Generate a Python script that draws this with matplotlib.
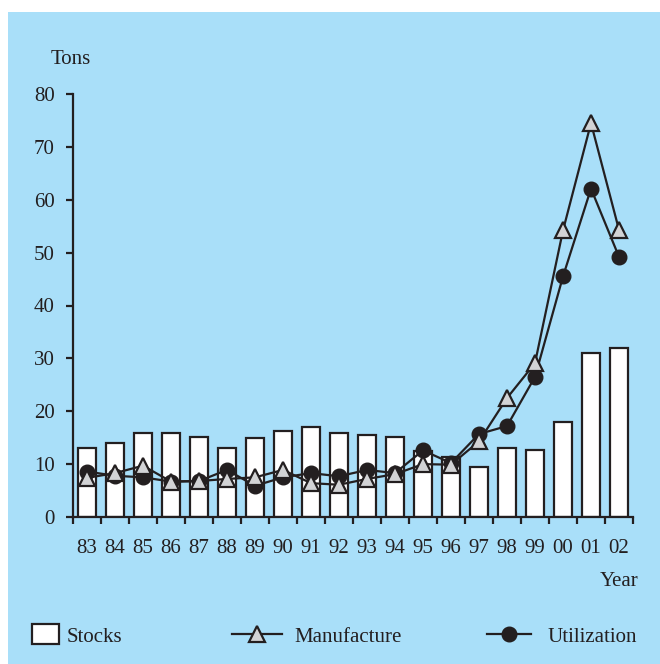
import matplotlib.pyplot as plt
import numpy as np
from matplotlib.patches import Rectangle
from matplotlib.lines import Line2D

plt.rcParams['font.family'] = ['Liberation Serif', 'DejaVu Serif']

# data (tons per year)
years = ['83', '84', '85', '86', '87', '88', '89', '90', '91', '92',
         '93', '94', '95', '96', '97', '98', '99', '00', '01', '02']
stocks = [13.0, 14.0, 15.8, 15.8, 15.2, 13.0, 14.9, 16.2, 17.1, 15.8,
          15.5, 15.2, 12.5, 11.4, 9.4, 13.0, 12.7, 17.9, 31.0, 32.0]
manufacture = [7.4, 8.3, 9.7, 6.7, 6.8, 7.2, 7.5, 8.9, 6.4, 6.1,
               7.2, 8.1, 10.0, 9.9, 14.3, 22.5, 29.1, 54.2, 74.5, 54.3]
utilization = [8.6, 7.8, 7.5, 6.7, 6.8, 8.9, 5.9, 7.5, 8.3, 7.7,
               8.9, 8.3, 12.6, 10.2, 15.7, 17.2, 26.5, 45.5, 62.1, 49.2]
yticks = [0, 10, 20, 30, 40, 50, 60, 70, 80]

bg = '#a9dff9'
ink = '#231f20'
tri_face = '#d2d3d5'
fs = 15

fig = plt.figure(figsize=(6.6, 6.64), dpi=100)
fig.patch.set_facecolor('white')
# blue panel (white strip on left and top)
fig.patches.append(Rectangle((8 / 660, 0), 1 - 8 / 660, 1 - 12 / 664,
                             transform=fig.transFigure, facecolor=bg,
                             edgecolor='none', zorder=-5))

ax = fig.add_axes([73 / 660, 147 / 664, 560 / 660, 423 / 664])
ax.set_facecolor('none')

x = np.arange(len(years))
ax.bar(x, stocks, width=0.65, color='white', edgecolor=ink, linewidth=1.6, zorder=2)
ax.plot(x, utilization, color=ink, lw=1.6, marker='o', ms=10.5,
        mfc=ink, mec=ink, zorder=3)
ax.plot(x, manufacture, color=ink, lw=1.6, marker='^', ms=11.5,
        mfc=tri_face, mec=ink, mew=1.6, zorder=4)

ax.set_xlim(-0.5, len(years) - 0.5)
ax.set_ylim(0, 80)
ax.set_yticks(yticks)
ax.set_xticks(np.arange(len(years) + 1) - 0.5)
ax.set_xticklabels([])
ax.set_xticks(x, minor=True)
ax.set_xticklabels(years, minor=True)

for s in ['top', 'right']:
    ax.spines[s].set_visible(False)
for s in ['left', 'bottom']:
    ax.spines[s].set_color(ink)
    ax.spines[s].set_linewidth(1.6)

ax.tick_params(axis='both', which='major', direction='out', length=5,
               width=1.6, color=ink, labelsize=fs, labelcolor=ink)
ax.tick_params(axis='y', pad=8)
ax.tick_params(axis='x', which='minor', length=0, pad=16,
               labelsize=fs, labelcolor=ink)

fig.text(71 / 660, 1 - 59 / 664, 'Tons', ha='center', va='center',
         fontsize=fs, color=ink)
fig.text(619 / 660, 1 - 581 / 664, 'Year', ha='center', va='center',
         fontsize=fs, color=ink)

# legend drawn in pixel coordinates along the bottom
lax = fig.add_axes([0, 0, 1, 1])
lax.set_xlim(0, 660)
lax.set_ylim(664, 0)
lax.axis('off')
ly = 634
ty = 637
lax.add_patch(Rectangle((32, 624), 27, 20, facecolor='white',
                        edgecolor=ink, linewidth=1.6))
lax.text(67, ty, 'Stocks', fontsize=fs, color=ink, va='center')
lax.add_line(Line2D([232, 282], [ly, ly], color=ink, lw=1.6))
lax.add_line(Line2D([257], [ly], marker='^', ms=11.5, mfc=tri_face,
                    mec=ink, mew=1.6, ls='none'))
lax.text(294, ty, 'Manufacture', fontsize=fs, color=ink, va='center')
lax.add_line(Line2D([487, 531], [ly, ly], color=ink, lw=1.6))
lax.add_line(Line2D([509], [ly], marker='o', ms=10.5, mfc=ink,
                    mec=ink, ls='none'))
lax.text(548, ty, 'Utilization', fontsize=fs, color=ink, va='center')

fig.savefig('out.png', dpi=100, facecolor=fig.get_facecolor())
